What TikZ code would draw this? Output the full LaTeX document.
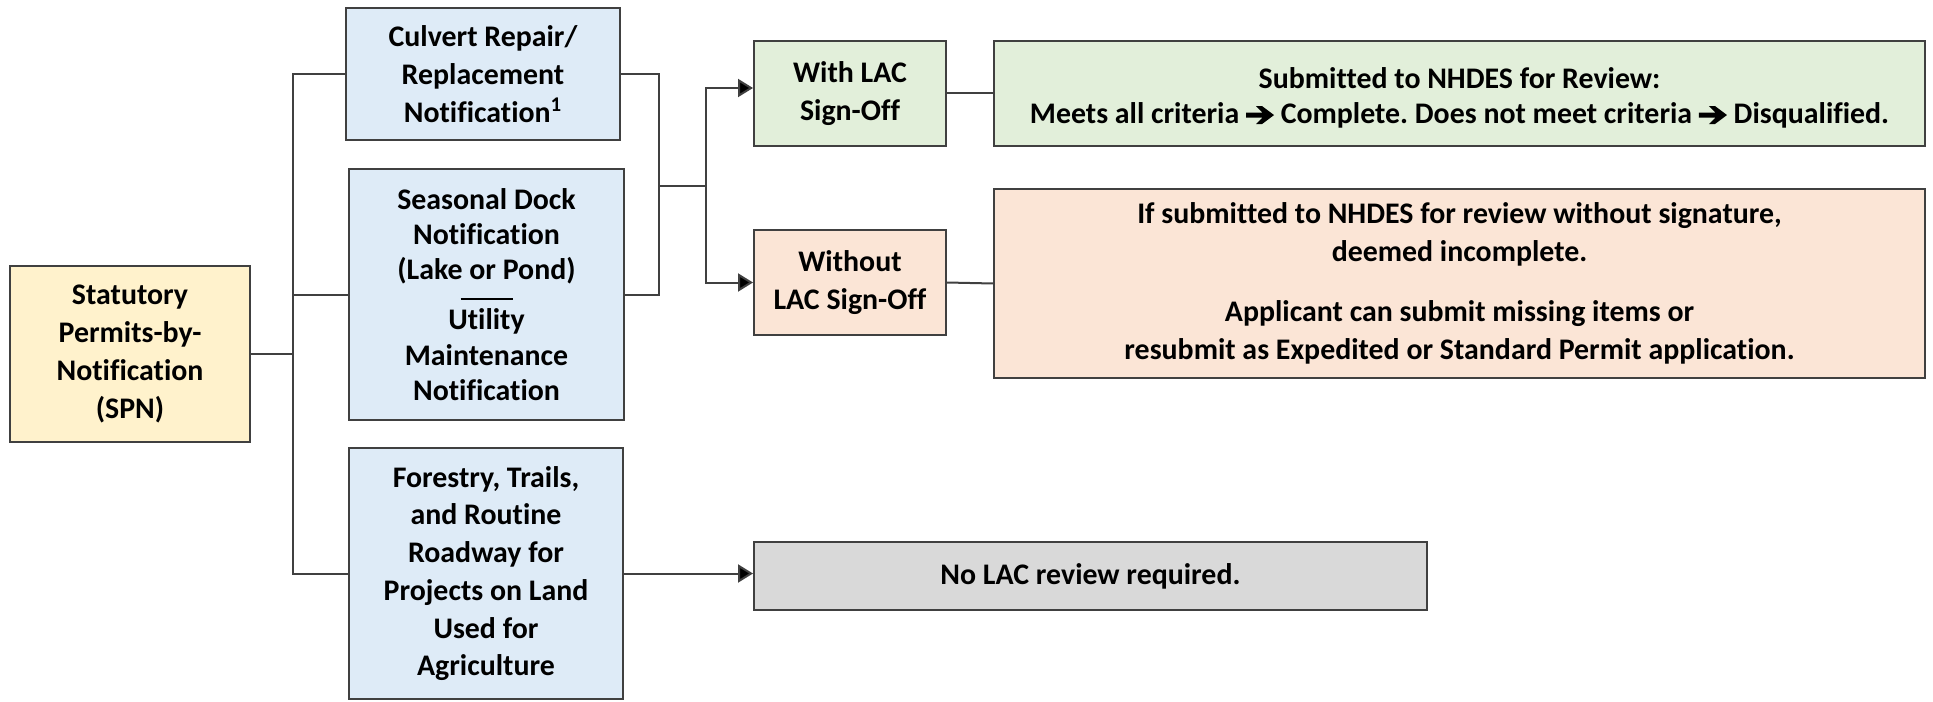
\documentclass[tikz,border=0pt]{standalone}
\usepackage{fontspec}
\setmainfont{Carlito}[Ligatures=NoCommon]
\frenchspacing
\usetikzlibrary{arrows.meta}

\definecolor{linegray}{HTML}{404040}
\definecolor{spnyellow}{HTML}{FFF2CC}
\definecolor{permitblue}{HTML}{DEEBF7}
\definecolor{withgreen}{HTML}{E2EFDA}
\definecolor{withoutorange}{HTML}{FBE5D6}
\definecolor{nogray}{HTML}{D9D9D9}

% heavy arrow used inside the text
\newcommand{\thenarrow}{\tikz[baseline=0pt]\fill[black] (0,0.12) -- (0.33,0.12) -- (0.2,-0.01) -- (0.32,-0.01)
    -- (0.56,0.17) -- (0.32,0.35) -- (0.2,0.35) -- (0.33,0.22) -- (0,0.22) -- cycle;}

\tikzset{
  box/.style={draw=linegray, line width=0.04cm, align=center, inner sep=0pt,
    font=\fontsize{17}{21.5}\selectfont\bfseries},
  link/.style={draw=linegray, line width=0.04cm},
  linkarrow/.style={link, -{Triangle[length=0.3cm,width=0.36cm,fill=black]}}
}

\begin{document}
\begin{tikzpicture}
    \useasboundingbox (0,0) rectangle (38.66,14.02);

    % Draw the main box
    \node[box, fill=spnyellow, minimum width=4.8cm, minimum height=3.52cm] (spn) at (2.6,6.94)
        {Statutory\\Permits-by-\\Notification\\(SPN)};

    % Draw the permit types
    \node[box, fill=permitblue, minimum width=5.48cm, minimum height=2.64cm] (culvert) at (9.66,12.54)
        {Culvert Repair/\\Replacement\\Notification\textsuperscript{1}};
    \node[box, fill=permitblue, minimum width=5.5cm, minimum height=5.02cm] (seasonal) at (9.73,8.13)
        {Seasonal Dock\\[-0.05cm]Notification\\[-0.05cm](Lake or Pond)\\[-0.34cm]\rule[0.01cm]{1.04cm}{0.05cm}\\[-0.17cm]Utility\\[-0.05cm]Maintenance\\[-0.05cm]Notification};
    \node[box, fill=permitblue, minimum width=5.48cm, minimum height=5.02cm] (forestry) at (9.72,2.55)
        {Forestry, Trails,\\and Routine\\Roadway for\\Projects on Land\\Used for\\Agriculture};

    % Draw the sign-off boxes
    \node[box, fill=withgreen, minimum width=3.84cm, minimum height=2.1cm] (with) at (17.0,12.15)
        {With LAC\\Sign-Off};
    \node[box, fill=withoutorange, minimum width=3.84cm, minimum height=2.1cm] (without) at (17.0,8.37)
        {Without\\LAC Sign-Off};

    % Draw the outcomes
    \node[box, fill=withgreen, minimum width=18.62cm, minimum height=2.1cm] (review) at (29.19,12.15)
        {\rule{0pt}{0.6cm}Submitted to NHDES for Review:\\[-0.06cm]Meets all criteria \thenarrow{} Complete. Does not meet criteria \thenarrow{} Disqualified.};
    \node[box, fill=withoutorange, minimum width=18.62cm, minimum height=3.78cm] (incomplete) at (29.19,8.35)
        {If submitted to NHDES for review without signature,\\deemed incomplete.\\[0.44cm]Applicant can submit missing items or\\resubmit as Expedited or Standard Permit application.};
    \node[box, fill=nogray, minimum width=13.46cm, minimum height=1.36cm] (noreview) at (21.81,2.5)
        {No LAC review required.};

    % Bracket points
    \coordinate (lbus) at (5.86,0);
    \coordinate (rjoin) at (13.18,10.3);
    \coordinate (rbus) at (14.12,10.3);

    % Left bracket
    \draw[link] (spn.east) -- (spn.east -| lbus);
    \draw[link] (culvert.west) -- (culvert.west -| lbus) -- (forestry.west -| lbus) -- (forestry.west);
    \draw[link] (seasonal.west) -- (seasonal.west -| lbus);

    % Right bracket
    \draw[link] (culvert.east) -| (rjoin) |- (seasonal.east);
    \draw[link] (rjoin) -- (rbus);
    \draw[linkarrow] (rbus) |- ([yshift=0.11cm]with.west);
    \draw[linkarrow] (rbus) |- (without.west);

    % Outcome lines
    \draw[link] (with.east) -- (review.west);
    \draw[link] (without.east) -- (incomplete.west);
    \draw[linkarrow] (forestry.east) -- (forestry.east -| noreview.west);

\end{tikzpicture}
\end{document}
